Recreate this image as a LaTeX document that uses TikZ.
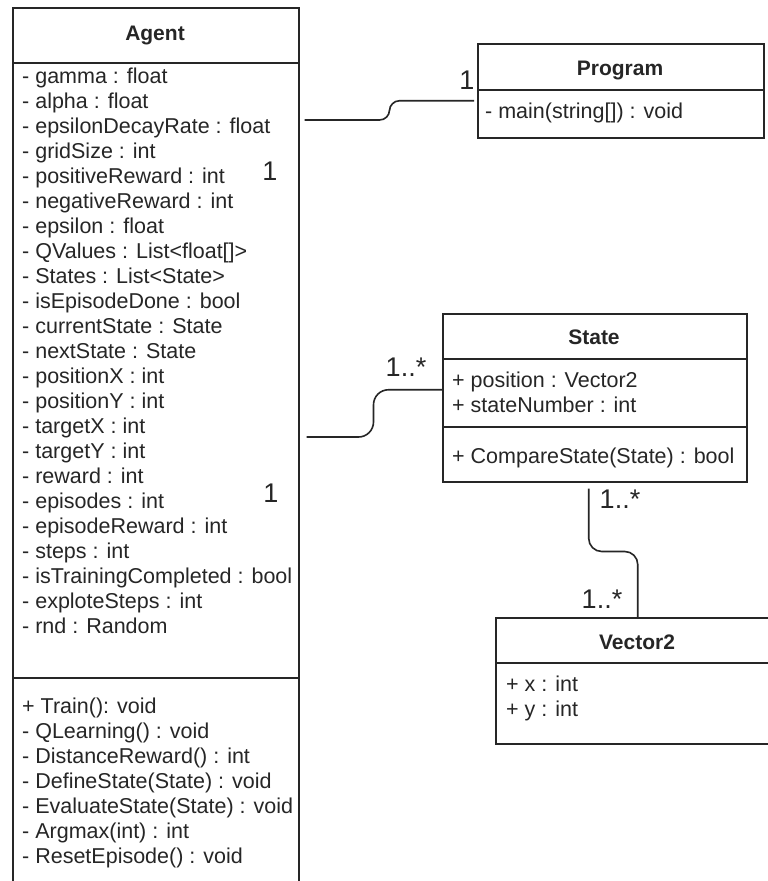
\documentclass[tikz,border=0pt]{standalone}
\usepackage{fontspec}
\setmainfont{Liberation Sans}
\usetikzlibrary{calc}
\definecolor{ink}{HTML}{262626}
\begin{document}
\begin{tikzpicture}[x=1pt,y=-1pt,
  umlbox/.style={draw=ink, line width=1.5pt, fill=white, inner sep=0pt, anchor=north west},
  member/.style={anchor=mid west, inner sep=0pt, text=ink, font=\fontsize{21.5}{25}\selectfont},
  classname/.style={anchor=base, inner sep=0pt, text=ink, font=\fontsize{21}{25}\selectfont\bfseries},
  mult/.style={inner sep=0pt, text=ink, font=\fontsize{27}{30}\selectfont},
  conn/.style={draw=ink, line width=1.6pt},
  divider/.style={draw=ink, line width=1.5pt}]

\useasboundingbox (0,0) rectangle (768,881);
\fill[white] (0,0) rectangle (768,881);
\clip (0,0) rectangle (768,881);

% class boxes
\node[umlbox, minimum width=286, minimum height=900] (agent) at (12,7) {};
\node[umlbox, minimum width=286, minimum height=94] (program) at (477,43) {};
\node[umlbox, minimum width=304, minimum height=168] (state) at (442,313) {};
\node[umlbox, minimum width=284, minimum height=126] (vector) at (495,617) {};

% compartment dividers
\draw[divider] (agent.west |- 0,63) -- (agent.east |- 0,63);
\draw[divider] (agent.west |- 0,678) -- (agent.east |- 0,678);
\draw[divider] (program.west |- 0,90) -- (program.east |- 0,90);
\draw[divider] (state.west |- 0,359) -- (state.east |- 0,359);
\draw[divider] (state.west |- 0,427) -- (state.east |- 0,427);
\draw[divider] (vector.west |- 0,663) -- (vector.east |- 0,663);

% class names
\node[classname] (agentname) at (155,40) {Agent};
\node[classname] (programname) at (620,75) {Program};
\node[classname] (statename) at (594,344) {State};
\node[classname] (vectorname) at (637,649) {Vector2};

% Agent attributes
\foreach \t [count=\i from 0] in {
  - gamma : float, - alpha : float, - epsilonDecayRate : float, - gridSize : int,
  - positiveReward : int, - negativeReward : int, - epsilon : float,
  - QValues : List<float[]>, - States : List<State>, - isEpisodeDone : bool,
  - currentState : State, - nextState : State, - positionX : int, - positionY : int,
  - targetX : int, - targetY : int, - reward : int, - episodes : int,
  - episodeReward : int, - steps : int, - isTrainingCompleted : bool,
  - exploteSteps : int, - rnd : Random}
  \node[member] (agentattr\i) at (22,80.5+25*\i) {\t};

% Agent operations
\foreach \t [count=\i from 0] in {
  + Train(): void, - QLearning() : void, - DistanceReward() : int,
  - DefineState(State) : void, - EvaluateState(State) : void,
  - Argmax(int) : int, - ResetEpisode() : void}
  \node[member] (agentop\i) at (22,711+25*\i) {\t};

% Program, State and Vector2 members
\node[member] (programop) at (485,116) {- main(string[]) : void};
\node[member] (stateattr0) at (452,385) {+ position : Vector2};
\node[member] (stateattr1) at (452,410) {+ stateNumber : int};
\node[member] (stateop) at (452,461) {+ CompareState(State) : bool};
\node[member] (vectorattr0) at (506,689) {+ x : int};
\node[member] (vectorattr1) at (506,714) {+ y : int};

% associations
\draw[conn, rounded corners=10] ($(agent.north east)+(5,113)$) -- ++(85,0)
  |- ($(program.west)+(-3,10)$);
\draw[conn, rounded corners=15] ($(agent.north east)+(7,430)$) -- ++(67,0)
  |- ($(state.west)+(0,-8)$);
\draw[conn, rounded corners=13] ($(state.south)+(-6,6)$) -- ++(0,63)
  -| (vector.north);

% multiplicities
\node[mult] (m1) at (467,80) {1};
\node[mult] (m2) at (270,171) {1};
\node[mult] (m3) at (406,367) {1..*};
\node[mult] (m4) at (271,493) {1};
\node[mult] (m5) at (620,499) {1..*};
\node[mult] (m6) at (602,599) {1..*};
\end{tikzpicture}
\end{document}
